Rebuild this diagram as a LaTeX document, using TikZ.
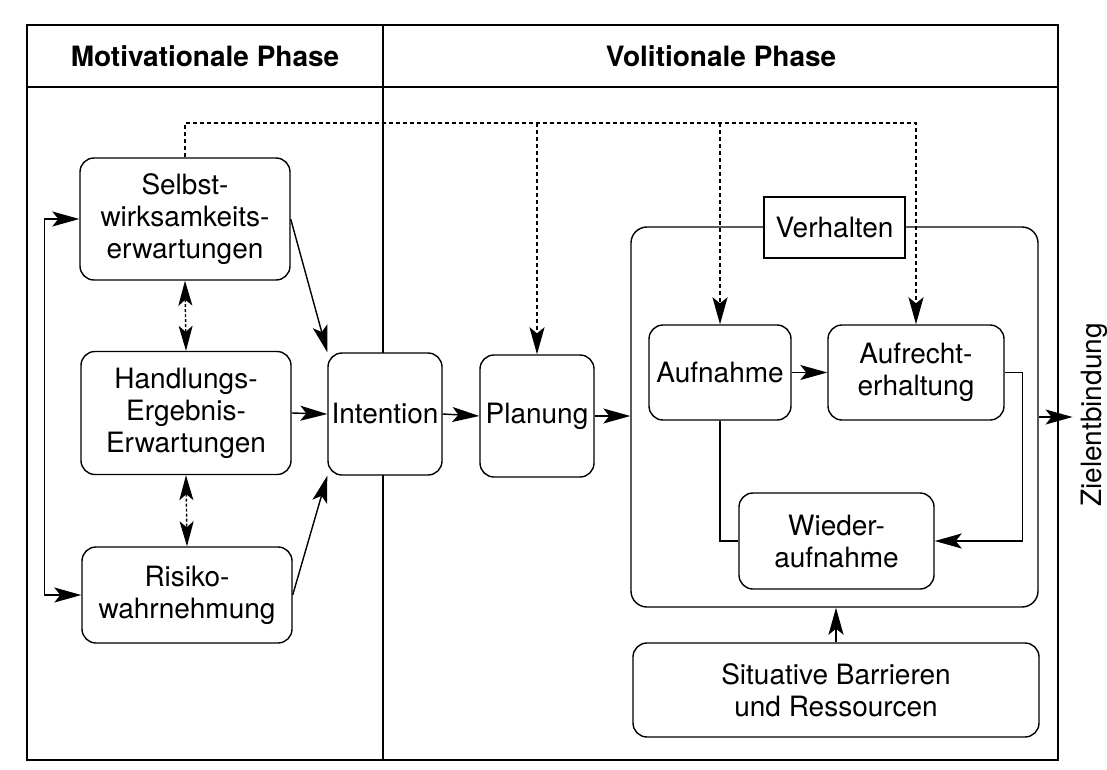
\documentclass[tikz,border=0pt]{standalone}
\usepackage{fontspec}
\setmainfont{TeX Gyre Heros}
\usepackage{tikz}
\usetikzlibrary{arrows.meta, positioning, calc, backgrounds}

\begin{document}
\begin{tikzpicture}[
  x=1pt, y=-1pt,
  font=\fontsize{28}{32}\selectfont,
  stage/.style={rectangle, draw, line width=1.4pt, rounded corners=14pt, fill=white, align=center, inner sep=0pt},
  head/.style={font=\fontsize{28}{32}\selectfont\bfseries},
  arrow/.style={-{Stealth[length=27pt, width=15pt, inset=6pt]}, line width=1.4pt},
  hint/.style={-{Stealth[length=27pt, width=15pt, inset=6pt]}, line width=1.6pt, dash pattern=on 4pt off 3pt},
  twoway/.style={{Stealth[length=25pt, width=14pt, inset=6pt]}-{Stealth[length=25pt, width=14pt, inset=6pt]}, line width=1.4pt, dash pattern=on 3pt off 2pt},
]
\useasboundingbox (0,0) rectangle (1107,770);

\draw[line width=1.5pt] (27,25) rectangle (1058,760);
\draw[line width=1.4pt] (27,87) -- (1058,87);
\draw[line width=1.4pt] (383,25) -- (383,760);

\node[head] (mot) at (205,56) {Motivationale Phase};
\node[head] (vol) at (721,56) {Volitionale Phase};

\node[stage, minimum width=210pt, minimum height=122pt] (sel) at (185,219) {Selbst-\\wirksamkeits-\\erwartungen};
\node[stage, minimum width=210pt, minimum height=123pt] (hand) at (186,413) {Handlungs-\\Ergebnis-\\Erwartungen};
\node[stage, minimum width=210pt, minimum height=96pt] (risk) at (187,595) {Risiko-\\wahrnehmung};
\node[stage, minimum width=114pt, minimum height=122pt] (int) at (385,414) {Intention};
\node[stage, minimum width=114pt, minimum height=122pt] (plan) at (537,416) {Planung};

\node[stage, rounded corners=16pt, minimum width=407pt, minimum height=380pt] (beh) at (834.5,417) {};
\node[stage, rounded corners=0pt, minimum width=141pt, minimum height=61pt] (verh) at (834.5,227.5) {Verhalten};
\node[stage, minimum width=142pt, minimum height=95pt] (aufn) at (720,372.5) {Aufnahme};
\node[stage, minimum width=176pt, minimum height=95pt] (aufr) at (916,372.5) {Aufrecht-\\erhaltung};
\node[stage, minimum width=195pt, minimum height=96pt] (wied) at (836.5,541) {Wieder-\\aufnahme};
\node[stage, minimum width=406pt, minimum height=94pt] (sit) at (836,690) {Situative Barrieren\\und Ressourcen};

\node[rotate=90, inner sep=8pt] (goal) at (1094,415) {Zielentbindung};

\coordinate (bus) at (0,123);

\draw[hint] (sel.north) |- (bus -| aufr.north) -- (aufr.north);
\draw[hint] (bus -| plan.north) -- (plan.north);
\draw[hint] (bus -| aufn.north) -- (aufn.north);
\begin{scope}[on background layer]
  \draw[hint] (verh.south) -- (verh.south |- wied.north);
\end{scope}

\draw[twoway] (sel.south) -- (hand.north);
\draw[twoway] (hand.south) -- (risk.north);
\draw[arrow, {Stealth[length=27pt, width=15pt, inset=6pt]}-{Stealth[length=27pt, width=15pt, inset=6pt]}] (sel.west) -- ++(-35,0) |- (risk.west);

\draw[arrow] (sel.east) -- (int.north west);
\draw[arrow] (hand.east) -- (int.west);
\draw[arrow] (risk.east) -- (int.south west);
\draw[arrow] (int.east) -- (plan.west);
\draw[arrow] (plan.east) -- (plan.east -| beh.west);
\draw[arrow] (aufn.east) -- (aufr.west);
\draw[line width=1.4pt] (aufn.south) |- (wied.west);
\draw[arrow] (aufr.east) -- ++(18,0) |- (wied.east);
\draw[arrow] (sit.north) -- (sit.north |- beh.south);
\draw[arrow] (beh.east) -- (beh.east -| goal.north);

\end{tikzpicture}
\end{document}
